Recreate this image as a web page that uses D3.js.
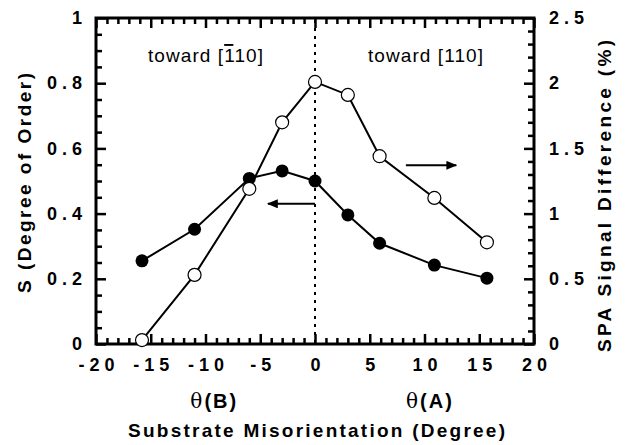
<!DOCTYPE html>
<html>
<head>
<meta charset="utf-8">
<script src="https://cdn.jsdelivr.net/npm/d3@7"></script>
<style>
    body { margin: 0; background: #fff; }
    text { font-family: "Liberation Sans", Arial, Helvetica, sans-serif; fill: #000; }
</style>
</head>
<body>
<div id="main"></div>
<script>
// misorientation angle (degree), negative = toward [-110], positive = toward [110]
const angle = [-15.8, -11, -6, -3, 0, 3, 5.9, 10.9, 15.7];
// degree of order S (left axis)
const orderS = [0.255, 0.352, 0.508, 0.531, 0.500, 0.396, 0.309, 0.242, 0.202];
// SPA signal difference in % (right axis)
const spaDiff = [0.03, 0.53, 1.19, 1.70, 2.01, 1.91, 1.44, 1.12, 0.78];

const xTicks = [-20, -15, -10, -5, 0, 5, 10, 15, 20];
const yLeftTicks = [0, 0.2, 0.4, 0.6, 0.8, 1];
const yRightTicks = [0, 0.5, 1, 1.5, 2, 2.5];

const width = 626, height = 445;
const margin = {left: 96, top: 18, right: 92, bottom: 101};

let svg = d3.select("#main").append("svg")
    .attr("width", width)
    .attr("height", height);

let x = d3.scaleLinear().domain([-20, 20]).range([margin.left, width - margin.right]);
let yL = d3.scaleLinear().domain([0, 1]).range([height - margin.bottom, margin.top]);
let yR = d3.scaleLinear().domain([0, 2.5]).range([height - margin.bottom, margin.top]);

const x0 = margin.left, x1 = width - margin.right;
const y0 = height - margin.bottom, y1 = margin.top;

const xMinor = d3.range(-20, 21, 1).filter(d => d % 5 !== 0);
const yLMinor = d3.range(1, 20).map(d => d / 20).filter((d, i) => (i + 1) % 4 !== 0);
const yRMinor = d3.range(1, 25).map(d => d / 10).filter((d, i) => (i + 1) % 5 !== 0);

// dotted line at zero
svg.append("line")
    .attr("x1", x(0)).attr("x2", x(0))
    .attr("y1", y1 + 2).attr("y2", y0)
    .attr("stroke", "#000").attr("stroke-width", 2)
    .attr("stroke-dasharray", "3,5");

// lines
const lineS = d3.line().x((d, i) => x(angle[i])).y(d => yL(d));
const lineSpa = d3.line().x((d, i) => x(angle[i])).y(d => yR(d));

svg.append("path").datum(orderS)
    .attr("fill", "none").attr("stroke", "#000").attr("stroke-width", 2)
    .attr("d", lineS);
svg.append("path").datum(spaDiff)
    .attr("fill", "none").attr("stroke", "#000").attr("stroke-width", 2)
    .attr("d", lineSpa);

svg.selectAll(".ptS").data(orderS).enter().append("circle")
    .attr("class", "ptS")
    .attr("cx", (d, i) => x(angle[i])).attr("cy", d => yL(d))
    .attr("r", 6.5).attr("fill", "#000");

// axes: frame, ticks and labels
function styleAxis(g) {
    g.select(".domain").remove();
    g.selectAll(".tick line").attr("stroke", "#000").attr("stroke-width", 2.5);
}
const labelStyle = g => g.selectAll(".tick text")
    .attr("font-size", 18).attr("font-weight", "bold")
    .attr("font-family", "'Liberation Sans', Arial, sans-serif")
    .style("letter-spacing", "5px");

svg.append("g").attr("transform", `translate(0,${y0})`)
    .call(d3.axisBottom(x).tickValues(xTicks).tickSize(-10).tickPadding(14).tickFormat(d => d))
    .call(styleAxis).call(labelStyle)
    .selectAll(".tick text").attr("dx", 2.5);
svg.append("g").attr("transform", `translate(0,${y0})`)
    .call(d3.axisBottom(x).tickValues(xMinor).tickSize(-6).tickFormat(() => ""))
    .call(styleAxis);
svg.append("g").attr("transform", `translate(0,${y1})`)
    .call(d3.axisTop(x).tickValues(xTicks).tickSize(-10).tickFormat(() => ""))
    .call(styleAxis);
svg.append("g").attr("transform", `translate(0,${y1})`)
    .call(d3.axisTop(x).tickValues(xMinor).tickSize(-6).tickFormat(() => ""))
    .call(styleAxis);
svg.append("g").attr("transform", `translate(${x0},0)`)
    .call(d3.axisLeft(yL).tickValues(yLeftTicks).tickSize(-10).tickPadding(14).tickFormat(d => d))
    .call(styleAxis).call(labelStyle)
    .selectAll(".tick text").attr("dx", 5);
svg.append("g").attr("transform", `translate(${x0},0)`)
    .call(d3.axisLeft(yL).tickValues(yLMinor).tickSize(-6).tickFormat(() => ""))
    .call(styleAxis);
svg.append("g").attr("transform", `translate(${x1},0)`)
    .call(d3.axisRight(yR).tickValues(yRightTicks).tickSize(-10).tickPadding(15).tickFormat(d => d))
    .call(styleAxis).call(labelStyle);
svg.append("g").attr("transform", `translate(${x1},0)`)
    .call(d3.axisRight(yR).tickValues(yRMinor).tickSize(-6).tickFormat(() => ""))
    .call(styleAxis);

svg.append("rect")
    .attr("x", x0).attr("y", y1)
    .attr("width", x1 - x0).attr("height", y0 - y1)
    .attr("fill", "none").attr("stroke", "#000").attr("stroke-width", 3);

// open markers on top of the frame
svg.selectAll(".ptSpa").data(spaDiff).enter().append("circle")
    .attr("class", "ptSpa")
    .attr("cx", (d, i) => x(angle[i])).attr("cy", d => yR(d))
    .attr("r", 6.5).attr("fill", "#fff").attr("stroke", "#000").attr("stroke-width", 1.2);

// arrows
svg.append("defs").append("marker")
    .attr("id", "head")
    .attr("viewBox", "0 0 12 10")
    .attr("refX", 11).attr("refY", 5)
    .attr("markerWidth", 6).attr("markerHeight", 4.5)
    .attr("markerUnits", "strokeWidth")
    .attr("orient", "auto")
    .append("path").attr("d", "M0,0L12,5L0,10Z").attr("fill", "#000");

svg.append("line")
    .attr("x1", x(0)).attr("x2", x(-4.3))
    .attr("y1", yL(0.43)).attr("y2", yL(0.43))
    .attr("stroke", "#000").attr("stroke-width", 2)
    .attr("marker-end", "url(#head)");
svg.append("line")
    .attr("x1", x(8.3)).attr("x2", x(12.9))
    .attr("y1", yR(1.37)).attr("y2", yR(1.37))
    .attr("stroke", "#000").attr("stroke-width", 2)
    .attr("marker-end", "url(#head)");

// annotations
const tL = svg.append("text")
    .attr("x", 148).attr("y", 62)
    .attr("font-size", 19)
    .attr("textLength", 115).attr("lengthAdjust", "spacing");
tL.append("tspan").text("toward [");
tL.append("tspan").style("text-decoration", "overline").text("1");
tL.append("tspan").text("10]");

svg.append("text")
    .attr("x", 368).attr("y", 62)
    .attr("font-size", 19)
    .attr("textLength", 115).attr("lengthAdjust", "spacing")
    .text("toward [110]");

// x labels
function thetaLabel(cx, letter) {
    const t = svg.append("text")
        .attr("x", cx).attr("y", 408)
        .attr("text-anchor", "middle")
        .attr("font-size", 20).attr("font-weight", "bold")
        .style("letter-spacing", "2px");
    t.append("tspan")
        .attr("font-family", "'DejaVu Serif', 'Liberation Serif', serif")
        .attr("font-weight", "normal")
        .text("\u03b8");
    t.append("tspan").text("(" + letter + ")");
}
thetaLabel(x(-9.2), "B");
thetaLabel(x(10.5), "A");

svg.append("text")
    .attr("x", 128).attr("y", 437)
    .attr("font-size", 19).attr("font-weight", "bold")
    .attr("textLength", 377).attr("lengthAdjust", "spacing")
    .text("Substrate Misorientation (Degree)");

svg.append("text")
    .attr("transform", "translate(31,293) rotate(-90)")
    .attr("font-size", 19).attr("font-weight", "bold")
    .attr("textLength", 220).attr("lengthAdjust", "spacing")
    .text("S (Degree of Order)");

svg.append("text")
    .attr("transform", "translate(611,352) rotate(-90)")
    .attr("font-size", 19).attr("font-weight", "bold")
    .attr("textLength", 312).attr("lengthAdjust", "spacing")
    .text("SPA Signal Difference (%)");
</script>
</body>
</html>
